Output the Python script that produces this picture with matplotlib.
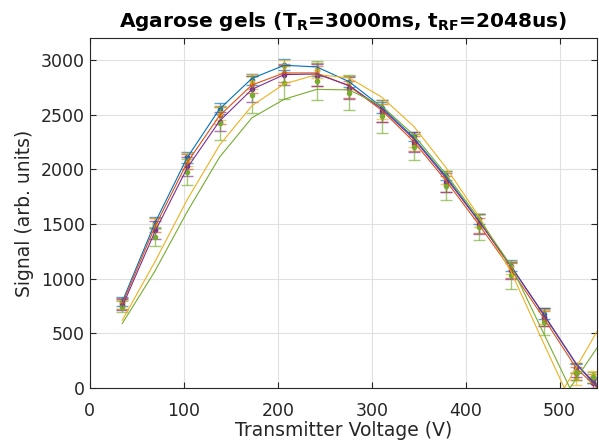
import matplotlib.pyplot as plt
import numpy as np

# transmitter voltages of the measured points
volts = [34.5, 69, 103.5, 138, 172.5, 207, 241.5, 276, 310.5, 345, 379.5, 414, 448.5, 483, 517.5, 535]

# measured signal (mean) per gel
sig_blue = [790, 1510, 2110, 2555, 2820, 2955, 2910, 2800, 2560, 2300, 1940, 1545, 1120, 680, 180, 75]
sig_red = [775, 1490, 2070, 2495, 2775, 2880, 2850, 2730, 2515, 2235, 1865, 1485, 1075, 635, 135, 90]
sig_yellow = [765, 1500, 2085, 2510, 2800, 2940, 2905, 2790, 2530, 2265, 1925, 1530, 1105, 650, 90, 120]
sig_purple = [760, 1445, 2025, 2435, 2730, 2860, 2860, 2745, 2530, 2250, 1880, 1500, 1075, 650, 165, 45]
sig_green = [745, 1385, 1975, 2420, 2680, 2790, 2810, 2700, 2485, 2205, 1850, 1470, 1030, 605, 150, 100]

# standard deviations
err_blue = [40, 50, 50, 50, 50, 50, 60, 50, 50, 40, 40, 50, 50, 50, 40, 30]
err_red = [50, 60, 70, 80, 80, 80, 90, 80, 80, 70, 70, 70, 70, 70, 60, 40]
err_yellow = [40, 50, 60, 60, 70, 60, 70, 60, 70, 60, 60, 60, 60, 60, 60, 40]
err_purple = [50, 80, 90, 90, 120, 90, 100, 100, 100, 90, 90, 90, 80, 80, 60, 40]
err_green = [50, 90, 120, 150, 170, 150, 175, 160, 150, 120, 130, 120, 120, 120, 80, 50]

# fitted curves
fit_v = [34.5, 69, 103.5, 138, 172.5, 207, 241.5, 276, 310.5, 345, 379.5, 414, 448.5, 483, 517.5, 540]
fit_blue = [790, 1505, 2105, 2550, 2830, 2950, 2935, 2800, 2570, 2285, 1930, 1530, 1110, 670, 220, 10]
fit_red = [770, 1470, 2060, 2490, 2770, 2880, 2880, 2760, 2540, 2250, 1890, 1495, 1080, 640, 185, 0]
fit_purple = [745, 1425, 2010, 2440, 2730, 2865, 2870, 2765, 2555, 2275, 1915, 1525, 1110, 675, 225, 20]
fit_v_yellow = [34.5, 69, 103.5, 138, 172.5, 207, 241.5, 276, 310.5, 345, 379.5, 414, 448.5, 483, 505, 540]
fit_yellow = [620, 1150, 1720, 2220, 2580, 2780, 2865, 2835, 2660, 2390, 2010, 1570, 1060, 410, 0, 520]
fit_v_green = [34.5, 69, 103.5, 138, 172.5, 207, 241.5, 276, 310.5, 345, 379.5, 414, 448.5, 483, 511, 540]
fit_green = [590, 1065, 1610, 2110, 2470, 2640, 2730, 2725, 2580, 2310, 1950, 1550, 1115, 500, 0, 370]

colors = ['#0072BD', '#D95319', '#EDB120', '#7E2F8E', '#77AC30']
signals = [sig_blue, sig_red, sig_yellow, sig_purple, sig_green]
errors = [err_blue, err_red, err_yellow, err_purple, err_green]
fits = [(fit_v, fit_blue), (fit_v, fit_red), (fit_v_yellow, fit_yellow),
        (fit_v, fit_purple), (fit_v_green, fit_green)]

fig = plt.figure(figsize=(5.99, 4.41), dpi=100)
ax = fig.add_axes([0.150, 0.120, 0.847, 0.794])

for c, s, e in zip(colors, signals, errors):
    ax.errorbar(volts, s, yerr=e, fmt='none', ecolor=c, alpha=0.65,
                elinewidth=1.0, capsize=4.5, capthick=1.0)
    ax.plot(volts, s, '.', color=c, markersize=6)
for c, (fv, fy) in zip(colors, fits):
    ax.plot(fv, fy, '-', color=c, linewidth=0.8)

ax.set_xlim(0, 540)
ax.set_ylim(0, 3200)
ax.set_xticks(np.arange(0, 501, 100))
ax.set_yticks(np.arange(0, 3001, 500))
ax.grid(True, color='#e0e0e0', linewidth=0.8)
ax.set_axisbelow(True)
ax.tick_params(direction='in', top=True, right=True, labelsize=12.5,
               colors='#262626', length=4)
ax.tick_params(axis='x', pad=10)
for sp in ax.spines.values():
    sp.set_color('#262626')
    sp.set_linewidth(0.8)

ax.set_xlabel('Transmitter Voltage (V)', fontsize=13.5, color='#262626', labelpad=1)
ax.set_ylabel('Signal (arb. units)', fontsize=13.5, color='#262626', labelpad=5)
ax.set_title(r'Agarose gels (T$_\mathbf{R}$=3000ms, t$_\mathbf{RF}$=2048us)',
             fontsize=14.5, fontweight='bold', pad=8)

plt.savefig('out.png', dpi=100)
